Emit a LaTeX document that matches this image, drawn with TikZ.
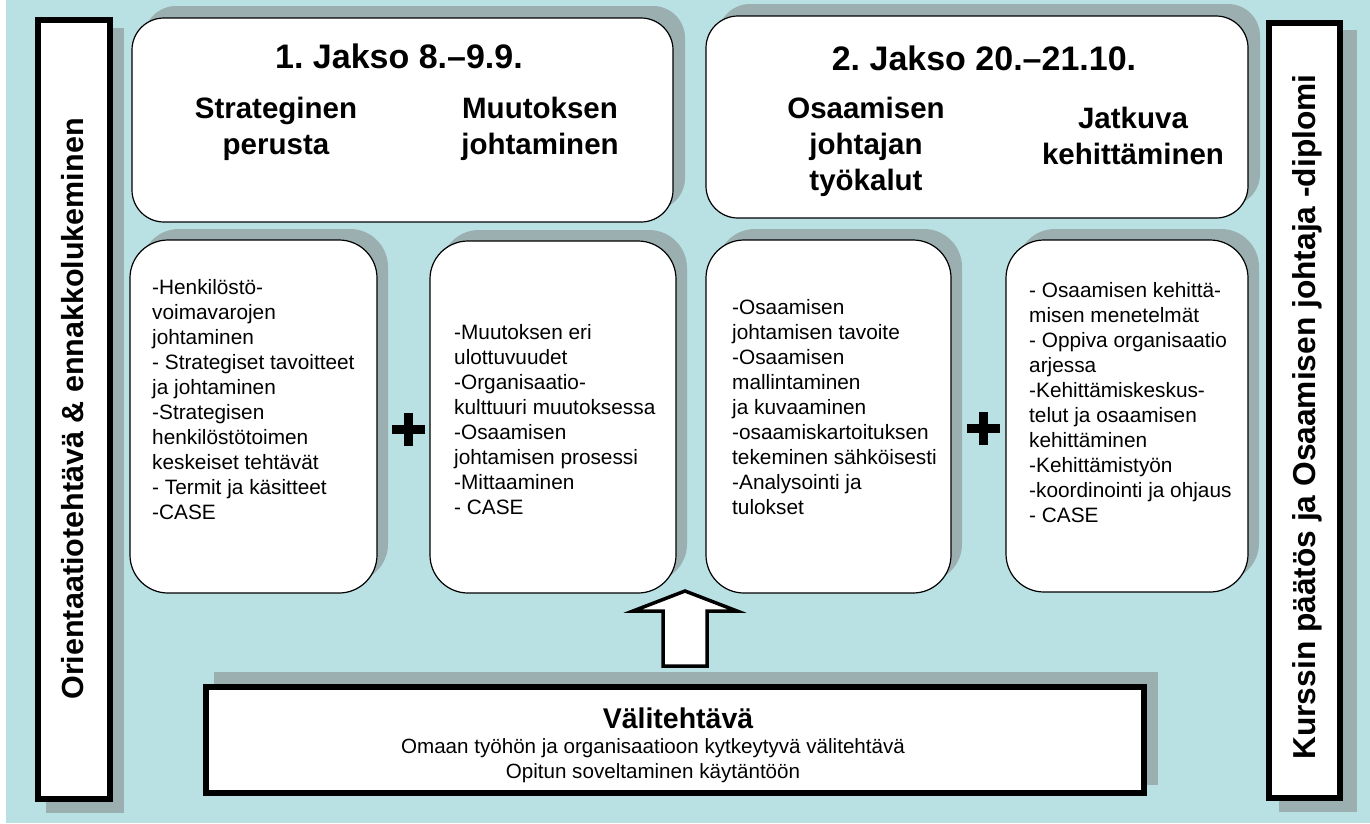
\documentclass[tikz,border=0pt]{standalone}
\usepackage{fontspec}
\setmainfont{Liberation Sans}
\usetikzlibrary{shadows,calc}
\definecolor{bgc}{RGB}{185,224,227}
\definecolor{shc}{RGB}{155,174,176}
\frenchspacing
\begin{document}
\frenchspacing
\begin{tikzpicture}[x=1pt,y=-1pt,
  topbox/.style={draw=black, line width=1.2pt, fill=white, rounded corners=32pt, inner sep=0pt,
    drop shadow={shadow xshift=12pt, shadow yshift=12pt, fill=shc, opacity=1}},
  cardbox/.style={draw=black, line width=1.2pt, fill=white, rounded corners=38pt, inner sep=0pt,
    drop shadow={shadow xshift=11pt, shadow yshift=11pt, fill=shc, opacity=1}},
  barbox/.style={draw=black, line width=6pt, fill=white, inner sep=0pt},
  cardtext/.style={anchor=north west, align=left, inner sep=0pt, font=\fontsize{20.8}{25}\selectfont},
  subtitle/.style={anchor=north, align=center, inner sep=0pt, font=\fontsize{29.5}{36}\selectfont\bfseries},
  jtitle/.style={anchor=base, inner sep=0pt, font=\fontsize{34}{40}\selectfont\bfseries},
  sidetext/.style={rotate=90, anchor=base, inner sep=0pt, font=\fontsize{30.5}{36}\selectfont\bfseries},
  blockarrow/.style={draw=black, line width=3.5pt, fill=white, line join=miter}
]
\useasboundingbox (0,0) rectangle (1370,823);
\fill[white] (0,0) rectangle (1370,823);
\fill[bgc] (6,0) rectangle (1370,823);

% side bars
\fill[shc] (46,28) rectangle (124,813);
\node[barbox, minimum width=72pt, minimum height=779pt] (lbar) at (74,409.5) {};
\fill[shc] (1279,30) rectangle (1357,812);
\node[barbox, minimum width=71pt, minimum height=775pt] (rbar) at (1304.5,410.5) {};

% top boxes
\node[topbox, minimum width=541pt, minimum height=204pt] (top1) at (402.5,120) {};
\node[topbox, minimum width=542pt, minimum height=202pt] (top2) at (977,117) {};

% cards
\node[cardbox, minimum width=247pt, minimum height=353pt] (c1) at (253.5,416.5) {};
\node[cardbox, minimum width=246pt, minimum height=352pt] (c2) at (553,417) {};
\node[cardbox, minimum width=245pt, minimum height=353pt] (c3) at (828.5,416.5) {};
\node[cardbox, minimum width=242pt, minimum height=352pt] (c4) at (1127,416) {};

% bottom box
\fill[shc] (214,672) rectangle (1158,785);
\node[barbox, minimum width=938pt, minimum height=106pt] (vali) at (675,740) {};

% arrow
\coordinate (atip) at (685,591);
\coordinate (abase) at (685,666);
\draw[blockarrow] (atip) -- ($(atip)+(52,20)$) -- ($(atip)+(22,20)$) -- ($(abase)+(22,0)$)
  -- ($(abase)+(-22,0)$) -- ($(atip)+(-22,20)$) -- ($(atip)+(-52,20)$) -- cycle;

% plus signs
\fill[black] (391.5,424.5) rectangle (424.5,433.5);
\fill[black] (403.5,412.5) rectangle (412.5,445.5);
\fill[black] (966.5,423.5) rectangle (999.5,432.5);
\fill[black] (978.5,411.5) rectangle (987.5,444.5);

% side texts
\node[sidetext] (ltext) at (83,409) {Orientaatiotehtävä \& ennakkolukeminen};
\node[sidetext, font=\fontsize{31.7}{38}\selectfont\bfseries] (rtext) at (1315,417) {Kurssin päätös ja Osaamisen johtaja -diplomi};

% titles
\node[jtitle] (t1) at (399,68) {1. Jakso 8.–9.9.};
\node[jtitle] (t2) at (984,70) {2. Jakso 20.–21.10.};
\node[subtitle] (s1) at (276,92.8) {\strut Strateginen\\perusta};
\node[subtitle] (s2) at (540,92.8) {\strut Muutoksen\\johtaminen};
\node[subtitle] (s3) at (866,92.8) {\strut Osaamisen\\johtajan\\työkalut};
\node[subtitle] (s4) at (1133,102.8) {\strut Jatkuva\\kehittäminen};

% card texts
\node[cardtext] (c1t) at (152,277) {\strut -Henkilöstö-\\voimavarojen\\johtaminen\\- Strategiset tavoitteet\\ja johtaminen\\-Strategisen\\henkilöstötoimen\\keskeiset tehtävät\\- Termit ja käsitteet\\-CASE};
\node[cardtext] (c2t) at (454,322) {\strut -Muutoksen eri\\ulottuvuudet\\-Organisaatio-\\kulttuuri muutoksessa\\-Osaamisen\\johtamisen prosessi\\-Mittaaminen\\- CASE};
\node[cardtext] (c3t) at (732,297) {\strut -Osaamisen\\johtamisen tavoite\\-Osaamisen\\mallintaminen\\ja kuvaaminen\\-osaamiskartoituksen\\tekeminen sähköisesti\\-Analysointi ja\\tulokset};
\node[cardtext] (c4t) at (1029,280) {\strut - Osaamisen kehittä-\\misen menetelmät\\- Oppiva organisaatio\\arjessa\\-Kehittämiskeskus-\\telut ja osaamisen\\kehittäminen\\-Kehittämistyön\\-koordinointi ja ohjaus\\- CASE};

% bottom texts
\node[anchor=base, inner sep=0pt, font=\fontsize{28.5}{34}\selectfont\bfseries] (vt) at (678,728) {Välitehtävä};
\node[anchor=north, align=center, inner sep=0pt, font=\fontsize{20.6}{25}\selectfont] (vs) at (653,735.5) {\strut Omaan työhön ja organisaatioon kytkeytyvä välitehtävä\\Opitun soveltaminen käytäntöön};
\end{tikzpicture}
\end{document}
